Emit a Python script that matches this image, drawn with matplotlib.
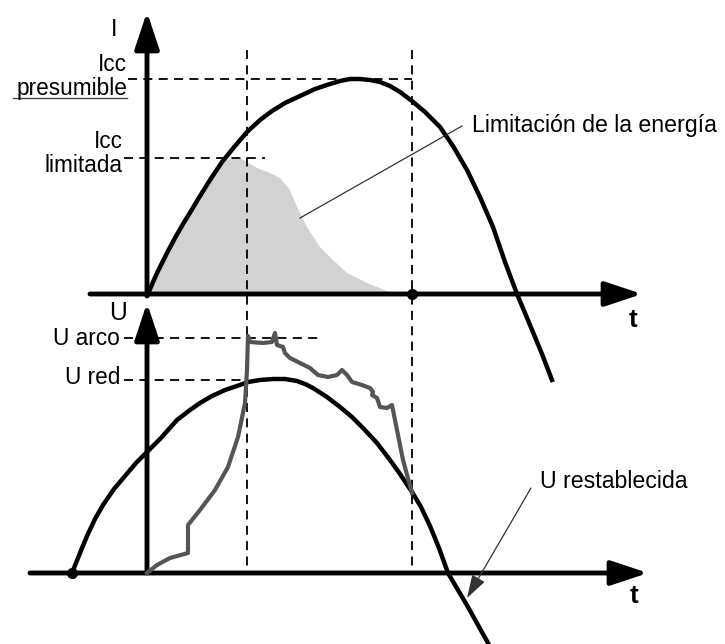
import matplotlib
matplotlib.use("Agg")
import matplotlib.pyplot as plt

plt.rcParams['font.family'] = ['Liberation Sans', 'DejaVu Sans']

# --- datos (coordenadas en pixeles, y hacia abajo) ---
# corriente presumible (curva negra superior)
i_x = [148, 153, 158, 163, 167, 175, 183, 191, 200, 210, 222, 235, 247, 260, 272, 285, 300, 315,
       330, 340, 350, 360, 370, 380, 390, 400, 412, 425, 440, 453, 467, 480, 493, 505, 517, 530, 542, 552]
i_y = [294, 282, 271, 261, 253, 238, 224, 211, 196, 180, 162, 146, 132, 120, 111, 103, 96, 89,
       84, 81, 79, 79, 80, 82, 86, 92, 101, 112, 127, 146, 170, 197, 227, 262, 294, 325, 354, 380]

# zona sombreada (corriente limitada)
sh_x = [148, 160, 175, 190, 205, 222, 240, 257, 270, 280, 290, 297, 307, 320, 333, 347, 367, 387, 395]
sh_y = [294, 268, 237, 210, 185, 160, 158, 168, 173, 178, 190, 207, 227, 247, 260, 273, 283, 291, 294]

# tension de red (curva negra inferior)
u_x = [72, 80, 87, 95, 103, 114, 125, 136, 147, 160, 177, 190, 200, 212, 225, 237, 248, 260, 273, 285,
       297, 305, 313, 327, 340, 352, 363, 377, 390, 400, 412, 421, 430, 439, 448, 458, 468, 478, 488]
u_y = [573, 553, 536, 519, 505, 489, 476, 463, 452, 439, 420, 410, 403, 396, 390, 386, 382, 380, 379, 379,
       381, 384, 388, 397, 407, 417, 428, 443, 460, 474, 492, 507, 526, 548, 573, 590, 607, 625, 643]

# tension de arco (traza gris)
arc_x = [147, 157, 170, 188, 188, 200, 215, 228, 238, 245, 247, 248, 250, 263, 272, 275, 277, 283, 285, 290,
         300, 310, 318, 328, 337, 342, 347, 352, 362, 370, 373, 372, 377, 380, 387, 392, 395, 403, 412]
arc_y = [573, 565, 558, 553, 525, 510, 490, 467, 437, 403, 370, 336, 342, 343, 342, 333, 345, 347, 353, 358,
         363, 368, 375, 377, 375, 370, 375, 382, 385, 388, 392, 395, 398, 407, 408, 405, 420, 460, 493]

# niveles de referencia
y_icc_pres = 79
y_icc_lim = 158
y_u_arco = 338
y_u_red = 380
x_t1 = 247
x_t2 = 412
y_axis_i = 294
y_axis_u = 573
x_axis = 147

fig = plt.figure(figsize=(7.25, 6.44), dpi=100)
ax = fig.add_axes([0, 0, 1, 1])
ax.set_xlim(0, 725)
ax.set_ylim(644, 0)
ax.axis('off')

fs = 16.7
fs_izq = 16.3
dash = dict(color='black', lw=1.3, linestyle=(0, (5, 3.5)))

# zona sombreada
ax.fill(sh_x, sh_y, color='#d2d2d2', lw=0, zorder=1)

# lineas discontinuas
ax.plot([x_t1, x_t1], [50, y_axis_u], **dash)
ax.plot([x_t2, x_t2], [50, y_axis_u], **dash)
ax.plot([128, x_t2], [y_icc_pres, y_icc_pres], **dash)
ax.plot([124, 265], [y_icc_lim, y_icc_lim], **dash)
ax.plot([124, 318], [y_u_arco, y_u_arco], **dash)
ax.plot([124, x_t1], [y_u_red, y_u_red], **dash)

# ejes con flechas
arr = dict(arrowstyle='-|>,head_length=0.9,head_width=0.3', lw=3.5, color='black',
           mutation_scale=25, shrinkA=0, shrinkB=0)
ax.annotate('', xy=(x_axis, 12), xytext=(x_axis, y_axis_i + 2), arrowprops=arr, zorder=4)
ax.annotate('', xy=(642, y_axis_i), xytext=(90, y_axis_i), arrowprops=arr, zorder=4)
ax.annotate('', xy=(x_axis, 303), xytext=(x_axis, y_axis_u), arrowprops=arr, zorder=4)
ax.annotate('', xy=(648, y_axis_u), xytext=(30, y_axis_u), arrowprops=arr, zorder=4)

# curvas
ax.plot(i_x, i_y, color='black', lw=3.2, solid_joinstyle='round', zorder=5)
ax.plot(u_x, u_y, color='black', lw=3.2, solid_joinstyle='round', zorder=5)
ax.plot(arc_x, arc_y, color='#555555', lw=3.0, solid_joinstyle='round', zorder=6)

# puntos
ax.plot([x_t2, 72], [y_axis_i, y_axis_u], 'o', color='black', ms=7, zorder=7)

# lineas de referencia de textos
ax.plot([300, 462], [218, 126], color='#333333', lw=0.9, zorder=7)
ax.annotate('', xy=(467, 598), xytext=(531, 488),
            arrowprops=dict(arrowstyle='-|>,head_length=0.8,head_width=0.25', lw=0.9,
                            color='#333333', mutation_scale=18, shrinkA=0, shrinkB=0), zorder=7)

# textos
ax.text(114, 29, 'I', fontsize=fs, ha='center', va='center')
ax.text(118, 313, 'U', fontsize=fs + 1, ha='center', va='center')
ax.text(127, 64, 'Icc', fontsize=fs_izq, ha='right', va='center')
ax.text(127, 88, 'presumible', fontsize=fs_izq, ha='right', va='center')
ax.plot([13, 127], [98, 98], color='#444444', lw=1.0)
ax.text(123, 141, 'Icc', fontsize=fs_izq, ha='right', va='center')
ax.text(123, 165, 'limitada', fontsize=fs_izq, ha='right', va='center')
ax.text(120, 338, 'U arco', fontsize=fs_izq, ha='right', va='center')
ax.text(120, 377, 'U red', fontsize=fs_izq, ha='right', va='center')
ax.text(472, 125, 'Limitación de la energía', fontsize=fs, ha='left', va='center')
ax.text(540, 481, 'U restablecida', fontsize=fs, ha='left', va='center')
ax.text(633, 320, 't', fontsize=fs + 2, ha='center', va='center', fontweight='bold')
ax.text(634, 596, 't', fontsize=fs + 2, ha='center', va='center', fontweight='bold')

fig.savefig('out.png', dpi=100)
